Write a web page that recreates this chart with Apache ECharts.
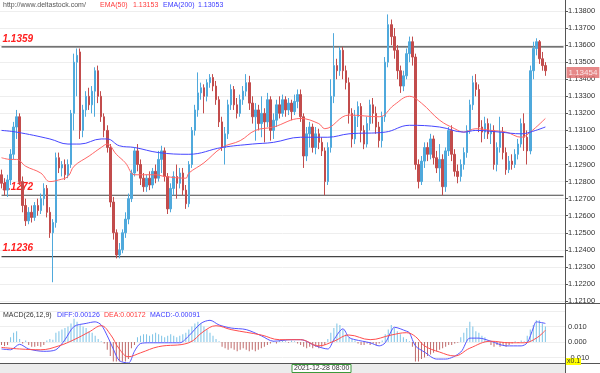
<!DOCTYPE html>
<html><head><meta charset="utf-8">
<script src="https://cdn.jsdelivr.net/npm/echarts@6/dist/echarts.min.js"></script>
<style>html,body{margin:0;padding:0;background:#fff}#c{width:600px;height:373px}</style>
</head><body><div id="c"></div>
<script>
// [open, close, low, high]
const candles = [
[1.1284,1.1279,1.1276,1.1287],[1.1279,1.1275,1.1272,1.1282],[1.1275,1.1281,1.1271,1.1284],[1.1281,1.1296,1.1278,1.1299],
[1.1296,1.1312,1.1293,1.1315],[1.1312,1.1318,1.1305,1.1322],[1.1318,1.1280,1.1278,1.1320],[1.1280,1.1266,1.1262,1.1283],
[1.1266,1.1257,1.1254,1.1270],[1.1257,1.1262,1.1255,1.1265],[1.1262,1.1259,1.1256,1.1266],[1.1259,1.1266,1.1257,1.1268],
[1.1266,1.1263,1.1260,1.1270],[1.1263,1.1270,1.1261,1.1273],[1.1270,1.1276,1.1266,1.1279],[1.1276,1.1262,1.1259,1.1278],
[1.1262,1.1250,1.1247,1.1265],[1.1250,1.1256,1.1221,1.1258],[1.1256,1.1294,1.1253,1.1297],[1.1294,1.1288,1.1285,1.1297],
[1.1288,1.1290,1.1283,1.1292],[1.1290,1.1284,1.1281,1.1293],[1.1284,1.1290,1.1282,1.1293],[1.1290,1.1320,1.1288,1.1322],
[1.1320,1.1350,1.1310,1.1355],[1.1350,1.1354,1.1330,1.1358],[1.1356,1.1310,1.1305,1.1358],[1.1310,1.1322,1.1306,1.1325],
[1.1322,1.1330,1.1318,1.1333],[1.1330,1.1325,1.1322,1.1335],[1.1325,1.1333,1.1320,1.1336],[1.1333,1.1345,1.1318,1.1347],
[1.1345,1.1330,1.1326,1.1348],[1.1330,1.1318,1.1315,1.1333],[1.1318,1.1310,1.1306,1.1320],[1.1310,1.1300,1.1297,1.1313],
[1.1300,1.1268,1.1265,1.1302],[1.1268,1.1250,1.1246,1.1271],[1.1250,1.1237,1.1235,1.1252],[1.1237,1.1240,1.1235,1.1244],
[1.1240,1.1250,1.1238,1.1252],[1.1250,1.1258,1.1247,1.1262],[1.1258,1.1270,1.1255,1.1273],[1.1270,1.1285,1.1268,1.1287],
[1.1285,1.1298,1.1283,1.1300],[1.1298,1.1290,1.1286,1.1302],[1.1290,1.1282,1.1278,1.1293],[1.1282,1.1277,1.1274,1.1285],
[1.1277,1.1282,1.1274,1.1284],[1.1282,1.1278,1.1275,1.1286],[1.1278,1.1286,1.1276,1.1288],[1.1286,1.1282,1.1279,1.1290],
[1.1282,1.1293,1.1280,1.1298],[1.1293,1.1298,1.1285,1.1301],[1.1298,1.1283,1.1280,1.1300],[1.1283,1.1264,1.1261,1.1285],
[1.1264,1.1276,1.1262,1.1279],[1.1276,1.1283,1.1272,1.1286],[1.1283,1.1279,1.1270,1.1290],[1.1279,1.1285,1.1276,1.1288],
[1.1285,1.1275,1.1272,1.1288],[1.1275,1.1267,1.1264,1.1278],[1.1267,1.1290,1.1265,1.1292],[1.1290,1.1310,1.1288,1.1312],
[1.1310,1.1322,1.1307,1.1325],[1.1322,1.1332,1.1318,1.1344],[1.1332,1.1335,1.1328,1.1338],[1.1335,1.1330,1.1320,1.1337],
[1.1330,1.1338,1.1327,1.1340],[1.1338,1.1341,1.1335,1.1343],[1.1341,1.1336,1.1333,1.1343],[1.1336,1.1328,1.1325,1.1339],
[1.1328,1.1315,1.1312,1.1330],[1.1315,1.1300,1.1298,1.1318],[1.1300,1.1308,1.1290,1.1312],[1.1308,1.1325,1.1305,1.1328],
[1.1325,1.1334,1.1322,1.1337],[1.1334,1.1325,1.1322,1.1336],[1.1325,1.1320,1.1317,1.1329],[1.1320,1.1328,1.1318,1.1331],
[1.1328,1.1333,1.1325,1.1336],[1.1333,1.1338,1.1330,1.1343],[1.1338,1.1326,1.1322,1.1342],[1.1326,1.1318,1.1314,1.1330],
[1.1318,1.1322,1.1304,1.1326],[1.1322,1.1314,1.1310,1.1325],[1.1314,1.1320,1.1306,1.1330],[1.1320,1.1315,1.1303,1.1323],
[1.1315,1.1328,1.1312,1.1332],[1.1328,1.1310,1.1304,1.1330],[1.1310,1.1316,1.1305,1.1320],[1.1316,1.1325,1.1312,1.1328],
[1.1325,1.1320,1.1317,1.1330],[1.1320,1.1328,1.1318,1.1331],[1.1328,1.1322,1.1318,1.1330],[1.1322,1.1326,1.1319,1.1329],
[1.1326,1.1321,1.1316,1.1328],[1.1321,1.1327,1.1319,1.1331],[1.1327,1.1331,1.1323,1.1334],[1.1331,1.1318,1.1315,1.1334],
[1.1318,1.1295,1.1288,1.1320],[1.1295,1.1308,1.1292,1.1312],[1.1308,1.1312,1.1300,1.1315],[1.1312,1.1300,1.1297,1.1314],
[1.1300,1.1308,1.1296,1.1312],[1.1308,1.1303,1.1299,1.1311],[1.1303,1.1298,1.1295,1.1306],[1.1298,1.1280,1.1272,1.1300],
[1.1280,1.1300,1.1278,1.1303],[1.1300,1.1330,1.1297,1.1340],[1.1330,1.1348,1.1326,1.1367],[1.1348,1.1345,1.1340,1.1352],
[1.1345,1.1357,1.1342,1.1359],[1.1357,1.1345,1.1340,1.1359],[1.1345,1.1338,1.1334,1.1348],[1.1338,1.1320,1.1314,1.1341],
[1.1320,1.1305,1.1300,1.1323],[1.1305,1.1318,1.1302,1.1322],[1.1318,1.1324,1.1312,1.1327],[1.1324,1.1310,1.1303,1.1326],
[1.1310,1.1302,1.1299,1.1313],[1.1302,1.1314,1.1300,1.1318],[1.1314,1.1325,1.1310,1.1328],[1.1325,1.1320,1.1314,1.1329],
[1.1320,1.1312,1.1308,1.1324],[1.1312,1.1304,1.1300,1.1315],[1.1304,1.1318,1.1300,1.1321],[1.1318,1.1350,1.1315,1.1353],
[1.1350,1.1372,1.1347,1.1378],[1.1372,1.1365,1.1360,1.1375],[1.1365,1.1357,1.1352,1.1370],[1.1357,1.1345,1.1340,1.1360],
[1.1345,1.1336,1.1332,1.1348],[1.1336,1.1342,1.1333,1.1345],[1.1342,1.1355,1.1340,1.1358],[1.1355,1.1362,1.1350,1.1365],
[1.1362,1.1353,1.1348,1.1365],[1.1353,1.1290,1.1287,1.1355],[1.1290,1.1280,1.1276,1.1293],[1.1280,1.1292,1.1278,1.1295],
[1.1292,1.1300,1.1288,1.1303],[1.1300,1.1296,1.1292,1.1303],[1.1296,1.1305,1.1293,1.1308],[1.1305,1.1294,1.1290,1.1307],
[1.1294,1.1288,1.1285,1.1298],[1.1288,1.1293,1.1280,1.1302],[1.1293,1.1277,1.1272,1.1296],[1.1277,1.1298,1.1274,1.1300],
[1.1298,1.1310,1.1295,1.1312],[1.1310,1.1296,1.1292,1.1313],[1.1296,1.1286,1.1283,1.1299],[1.1286,1.1283,1.1279,1.1290],
[1.1283,1.1290,1.1280,1.1293],[1.1290,1.1297,1.1287,1.1300],[1.1297,1.1310,1.1294,1.1313],[1.1310,1.1325,1.1308,1.1328],
[1.1325,1.1338,1.1322,1.1342],[1.1338,1.1334,1.1330,1.1343],[1.1334,1.1312,1.1309,1.1337],[1.1312,1.1309,1.1303,1.1316],
[1.1309,1.1314,1.1305,1.1318],[1.1314,1.1308,1.1305,1.1317],[1.1308,1.1310,1.1302,1.1314],[1.1310,1.1290,1.1287,1.1313],
[1.1290,1.1300,1.1286,1.1303],[1.1300,1.1309,1.1297,1.1318],[1.1309,1.1297,1.1293,1.1312],[1.1297,1.1287,1.1284,1.1300],
[1.1287,1.1292,1.1285,1.1295],[1.1292,1.1290,1.1287,1.1296],[1.1290,1.1296,1.1288,1.1299],[1.1296,1.1302,1.1293,1.1305],
[1.1302,1.1314,1.1300,1.1317],[1.1314,1.1306,1.1298,1.1320],[1.1306,1.1298,1.1290,1.1310],[1.1298,1.1345,1.1296,1.1348],
[1.1345,1.1358,1.1340,1.1362],[1.1358,1.1362,1.1354,1.1364],[1.1362,1.1352,1.1349,1.1363],[1.1352,1.1348,1.1345,1.1356],
[1.1348,1.1345,1.1342,1.1350]
];
// [candle index, value]
const ema50 = [[0,1.1294],[3,1.1293],[5,1.1293],[8,1.1289],[13,1.1285],[16,1.1280],[19,1.1281],[22,1.1283],[24,1.1289],
[29,1.1295],[33,1.1300],[35,1.1302],[38,1.1296],[41,1.1291],[44,1.1284],[46,1.1284],[51,1.1284],[54,1.1283],[61,1.1282],
[62,1.1285],[67,1.1291],[73,1.1300],[79,1.1304],[84,1.1310],[90,1.1312],[99,1.1317],[105,1.1314],[107,1.1311],[115,1.1319],
[125,1.1318],[130,1.1325],[135,1.1330],[139,1.1326],[145,1.1316],[150,1.1311],[153,1.1309],[157,1.1311],[162,1.1310],
[167,1.1309],[172,1.1306],[175,1.1309],[180,1.1317]];
const ema200 = [[0,1.1310],[5,1.1309],[16,1.1305],[22,1.1302],[26,1.1302],[33,1.1305],[35,1.1305],[39,1.1301],[44,1.1300],
[52,1.1297],[62,1.1296],[73,1.1300],[83,1.1302],[90,1.1303],[99,1.1306],[108,1.1306],[115,1.1308],[127,1.1309],[135,1.1313],
[145,1.1312],[153,1.1309],[157,1.1310],[165,1.1309],[172,1.1308],[175,1.1309],[180,1.1312]];
const macdHist = [
-0.002,-0.0025,-0.002, 0.003,0.006,0.007, 0.002,-0.001,0.001,
-0.002,-0.003,-0.003,-0.0025,-0.003,-0.002, 0.001,0.002,0.0015,
0.006,0.007,0.008,0.009,0.010,0.012,0.015,
0.013,0.011,0.010,0.009,0.007,0.006,0.004,0.002,
0.0005,-0.001,
-0.005,-0.009,-0.0125,-0.0125,-0.0125,-0.0125,-0.0125,-0.011,
-0.004,-0.002,
0.003,0.004,0.005,0.005,0.004,0.005,0.006,0.005,0.004,0.003,0.004,0.005,0.004,0.003,0.004,0.005,
0.006,0.008,0.010,0.012,0.013,
0.012,0.010,0.008,0.006,0.004,
0.002,0.0005,
-0.003,-0.004,-0.005,-0.004,-0.005,-0.006,-0.005,-0.004,-0.005,-0.006,-0.005,-0.006,-0.005,-0.004,-0.003,-0.002,
-0.001,0.0005,-0.001,0.001,0.001,0.0005,-0.0005,0.001,0.0005,-0.001,
-0.002,-0.003,-0.004,-0.003,-0.004,-0.003,-0.004,-0.003,-0.002,0.002,
0.006,0.009,0.012,0.011,0.008,
0.005,0.003,0.002,0.001,
-0.001,-0.002,-0.002,-0.001,-0.002,-0.001,-0.002,-0.001,0.001,
0.005,0.008,0.011,0.009,0.007,
0.005,0.003,0.002,
0.0005,-0.003,
-0.0125,-0.0125,-0.011,-0.010,-0.009,-0.008,-0.007,-0.006,-0.005,-0.004,
-0.003,-0.002,-0.002,-0.001,-0.0005,
0.003,0.006,0.009,0.013,0.010,
0.007,0.006,0.004,0.003,0.001,
-0.002,-0.003,-0.002,-0.003,-0.002,-0.003,-0.002,
-0.001,0.0005,-0.0005,0.001,0.0005,
0.004,0.008,0.011,0.014,0.014,0.012,0.010
];
const diffLine = [[0,-0.0045],[3,-0.005],[6,-0.0015],[9,-0.0045],[14,-0.006],[18,-0.005],[21,0.0015],[24,0.010],[28,0.012],
[31,0.013],[33,0.011],[35,0.004],[37,-0.0045],[39,-0.012],[42,-0.0135],[44,-0.006],[46,-0.001],[49,-0.0005],[54,-0.0005],
[59,-0.0005],[62,0.004],[66,0.012],[69,0.014],[72,0.011],[76,0.009],[81,0.008],[86,0.004],[90,0.0005],[96,0.0015],[99,0.0015],
[104,-0.0025],[108,-0.0045],[110,0.0015],[113,0.0085],[115,0.003],[117,0.0015],[122,-0.0005],[125,-0.0025],[127,-0.0005],
[129,0.007],[130,0.0095],[134,0.007],[135,0.006],[137,-0.0025],[140,-0.0065],[144,-0.011],[147,-0.011],[152,-0.0065],
[155,0.0025],[158,0.0025],[162,0.0005],[167,-0.0025],[172,-0.0025],[174,-0.0005],[176,0.009],[177,0.013],[180,0.012]];
const deaLine = [[0,-0.0035],[6,-0.0045],[13,-0.005],[19,-0.0025],[24,0.0015],[29,0.0065],[33,0.0105],[36,0.005],[39,-0.0045],
[42,-0.0095],[46,-0.007],[52,-0.003],[62,-0.0005],[67,0.007],[71,0.0105],[76,0.008],[86,0.0045],[92,0.0015],[99,0.0015],
[105,-0.0025],[110,0.0005],[115,0.0045],[122,0.0015],[129,0.0045],[134,0.006],[137,0.0035],[140,-0.0025],[145,-0.0065],
[150,-0.009],[155,-0.004],[162,0.0005],[168,-0.0005],[173,-0.0005],[177,0.0025],[180,0.0075]];
const levels = [1.1359, 1.1272, 1.1236];
const lastPrice = 1.13454;
const priceAxis = {min: 1.121, max: 1.138, step: 0.001};
const macdAxis = {min: -0.02, max: 0.02, step: 0.01, shown: [-0.01, 0, 0.01]};
const headerTexts = [
  {t: 'http://www.deltastock.com/', c: '#555'}, {t: 'EMA(50)', c: '#ff3b3b'}, {t: '1.13153', c: '#ff3b3b'},
  {t: 'EMA(200)', c: '#3a3aff'}, {t: '1.13053', c: '#3a3aff'}
];
const macdTexts = [
  {t: 'MACD(26,12,9)', c: '#333'}, {t: 'DIFF:0.00126', c: '#3a3aff'}, {t: 'DEA:0.00172', c: '#ff3b3b'}, {t: 'MACD:-0.00091', c: '#3a3aff'}
];
const timeLabel = '2021-12-28 08:00';

const pad = 6;
const cats = Array.from({length: candles.length + pad}, (_, i) => String(i));
const lastCat = cats.length - 1;
const UP = '#4fa9dc', DOWN = '#c24c4c';
const FONT = 'Liberation Sans, Arial, sans-serif';

const chart = echarts.init(document.getElementById('c'), null, {renderer: 'canvas'});

const headerX = [3, 100, 133, 163, 198];
const macdX = [3, 57, 104, 150];
const graphic = [];
headerTexts.forEach((h, k) => graphic.push({type: 'text', left: headerX[k], top: 2,
  style: {text: h.t, fill: h.c, font: '7px ' + FONT}}));
macdTexts.forEach((h, k) => graphic.push({type: 'text', left: macdX[k], top: 312,
  style: {text: h.t, fill: h.c, font: '7px ' + FONT}}));
graphic.push(
  {type: 'line', shape: {x1: 0, y1: 303.5, x2: 600, y2: 303.5}, style: {stroke: '#555', lineWidth: 1}, z: 10},
  {type: 'line', shape: {x1: 0, y1: 363.5, x2: 600, y2: 363.5}, style: {stroke: '#555', lineWidth: 1}, z: 10},
  {type: 'rect', shape: {x: 0, y: 364, width: 565, height: 9}, style: {fill: '#ececec'}, z: 9},
  {type: 'line', shape: {x1: 565.5, y1: 0, x2: 565.5, y2: 373}, style: {stroke: '#555', lineWidth: 1}, z: 10},
  {type: 'rect', shape: {x: 292, y: 364.5, width: 59, height: 8}, style: {fill: '#fff', stroke: '#3c9a3c', lineWidth: 1}, z: 11},
  {type: 'text', left: 294, top: 365, z: 12, style: {text: timeLabel, fill: '#333', font: '7px ' + FONT}},
  {type: 'rect', shape: {x: 566, y: 358, width: 15, height: 7}, style: {fill: '#ffff00'}, z: 11},
  {type: 'text', left: 567, top: 358, z: 12, style: {text: 'x0.1', fill: '#333', font: '7px ' + FONT}}
);

// horizontal support/resistance levels as two-point line series across the plot
const levelSeries = levels.map(v => ({
  type: 'line', xAxisIndex: 0, yAxisIndex: 0, silent: true, z: 3,
  symbol: 'circle', symbolSize: 0, showSymbol: true,
  lineStyle: {color: '#444', width: 1.2},
  data: [
    {value: [0, v], label: {show: true, position: [1, -13], formatter: v.toFixed(4), color: '#ff2020',
      fontWeight: 'bold', fontStyle: 'italic', fontSize: 10, fontFamily: FONT}},
    {value: [lastCat, v], label: {show: false}}
  ]
}));
const priceTag = {
  type: 'scatter', xAxisIndex: 0, yAxisIndex: 0, silent: true, symbolSize: 0, z: 20,
  data: [{value: [lastCat, lastPrice]}],
  label: {show: true, position: [3, -3], formatter: lastPrice.toFixed(5), backgroundColor: '#e06a6a',
    color: '#fff', fontSize: 8, fontFamily: FONT, padding: [1, 2, 1, 2], lineHeight: 9}
};

chart.setOption({
  animation: false,
  backgroundColor: '#fff',
  graphic: graphic,
  grid: [
    {left: 0, right: 35, top: 11, height: 290},
    {left: 0, right: 35, top: 311, height: 64}
  ],
  xAxis: [
    {type: 'category', gridIndex: 0, data: cats, boundaryGap: true, show: false},
    {type: 'category', gridIndex: 1, data: cats, boundaryGap: true, show: false}
  ],
  yAxis: [
    {type: 'value', gridIndex: 0, position: 'right', min: priceAxis.min, max: priceAxis.max, interval: priceAxis.step,
      axisLine: {show: true, lineStyle: {color: '#555'}}, axisTick: {show: true, length: 3, lineStyle: {color: '#555'}},
      axisLabel: {fontSize: 7.5, color: '#333', margin: 3, fontFamily: FONT, formatter: v => v.toFixed(5)},
      splitLine: {show: true, lineStyle: {color: '#eeeeee'}}},
    {type: 'value', gridIndex: 1, position: 'right', min: macdAxis.min, max: macdAxis.max, interval: macdAxis.step,
      axisLine: {show: false}, axisTick: {show: false},
      axisLabel: {fontSize: 7.5, color: '#333', margin: 3, fontFamily: FONT,
        formatter: v => macdAxis.shown.some(s => Math.abs(s - v) < 1e-9) ? (Math.abs(v) < 1e-9 ? '0.000' : v.toFixed(3)) : ''},
      splitLine: {show: true, lineStyle: {color: '#eeeeee'}}}
  ],
  series: [
    {type: 'candlestick', xAxisIndex: 0, yAxisIndex: 0, data: candles, barWidth: 2, z: 4,
      itemStyle: {color: UP, color0: DOWN, borderColor: UP, borderColor0: DOWN, borderWidth: 1}},
    {type: 'line', xAxisIndex: 0, yAxisIndex: 0, data: ema50, smooth: 0.4, showSymbol: false, z: 5,
      lineStyle: {color: '#ff6666', width: 1}},
    {type: 'line', xAxisIndex: 0, yAxisIndex: 0, data: ema200, smooth: 0.4, showSymbol: false, z: 5,
      lineStyle: {color: '#4646ff', width: 1}},
    {type: 'bar', xAxisIndex: 1, yAxisIndex: 1, data: macdHist, barWidth: 1,
      itemStyle: {color: p => p.value >= 0 ? '#7cc3e6' : '#c06a6a'}},
    {type: 'line', xAxisIndex: 1, yAxisIndex: 1, data: diffLine, smooth: 0.3, showSymbol: false,
      lineStyle: {color: '#5555ff', width: 1}},
    {type: 'line', xAxisIndex: 1, yAxisIndex: 1, data: deaLine, smooth: 0.4, showSymbol: false,
      lineStyle: {color: '#ff4d4d', width: 1}}
  ].concat(levelSeries, [priceTag])
});
</script></body></html>
